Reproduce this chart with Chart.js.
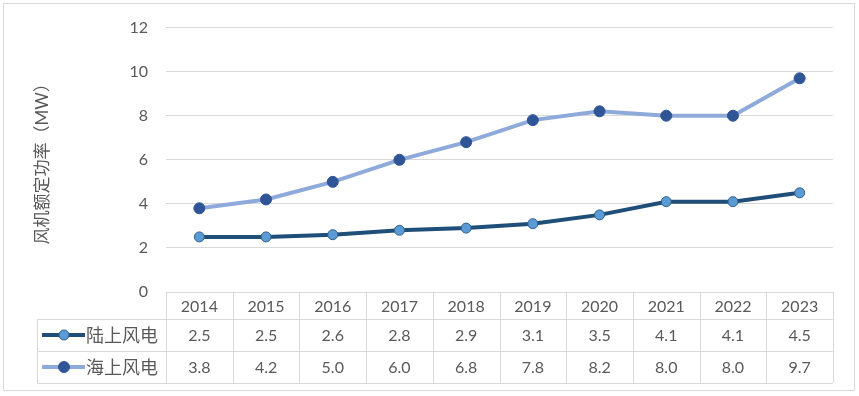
<!DOCTYPE html>
<html>
<head>
<meta charset="utf-8">
<script src="https://cdn.jsdelivr.net/npm/chart.js@4/dist/chart.umd.min.js"></script>
<style>
  html, body { margin: 0; padding: 0; background: #fff; }
  #wrap { width: 859px; height: 396px; position: relative; }
</style>
</head>
<body>
<div id="wrap"><canvas id="grafico" width="859" height="396"></canvas></div>
<script>
const years = ["2014", "2015", "2016", "2017", "2018", "2019", "2020", "2021", "2022", "2023"];
const seriesNames = ["陆上风电", "海上风电"];
const onshore = [2.5, 2.5, 2.6, 2.8, 2.9, 3.1, 3.5, 4.1, 4.1, 4.5];
const offshore = [3.8, 4.2, 5.0, 6.0, 6.8, 7.8, 8.2, 8.0, 8.0, 9.7];
const yTitle = "风机额定功率（MW）";

const FONT = "Lato, 'Noto Sans CJK SC', sans-serif";
const TEXT = "#595959";
const GRID = "#d9d9d9";

const styles = [
  { line: "#1f4e79", fill: "#5b9bd5", edge: "#2e5f8a", r: 5 },
  { line: "#8eaadb", fill: "#2f5597", edge: "#2f5597", r: 5.5 }
];

// tabla de datos bajo el eje (estilo Excel)
const dataTable = {
  id: "dataTable",
  afterDraw(chart) {
    const ctx = chart.ctx;
    const xs = chart.scales.x;
    const area = chart.chartArea;
    const half = (xs.getPixelForValue(1) - xs.getPixelForValue(0)) / 2;
    const left = xs.getPixelForValue(0) - half;
    const right = xs.getPixelForValue(years.length - 1) + half;
    const top = area.bottom;
    const rows = [top, top + 27, top + 59, top + 91];
    const labelLeft = 37;

    ctx.save();
    ctx.strokeStyle = GRID;
    ctx.lineWidth = 1;
    ctx.beginPath();
    // horizontales
    ctx.moveTo(left, rows[0] + 0.5); ctx.lineTo(right, rows[0] + 0.5);
    for (let i = 1; i < rows.length; i++) {
      ctx.moveTo(labelLeft, rows[i] + 0.5); ctx.lineTo(right, rows[i] + 0.5);
    }
    // verticales
    for (let i = 0; i <= years.length; i++) {
      const x = Math.round(left + i * half * 2) + 0.5;
      ctx.moveTo(x, rows[0]); ctx.lineTo(x, rows[3]);
    }
    ctx.moveTo(labelLeft + 0.5, rows[1]); ctx.lineTo(labelLeft + 0.5, rows[3]);
    ctx.stroke();

    ctx.fillStyle = TEXT;
    ctx.textAlign = "center";
    ctx.textBaseline = "middle";
    ctx.font = "16px " + FONT;
    years.forEach((y, i) => {
      const x = xs.getPixelForValue(i);
      ctx.fillText(y, x, (rows[0] + rows[1]) / 2 + 1);
      ctx.fillText(onshore[i].toFixed(1), x, (rows[1] + rows[2]) / 2 + 1);
      ctx.fillText(offshore[i].toFixed(1), x, (rows[2] + rows[3]) / 2 + 1);
    });

    // leyenda dentro de la tabla
    seriesNames.forEach((name, k) => {
      const cy = (rows[k + 1] + rows[k + 2]) / 2;
      const st = styles[k];
      ctx.strokeStyle = st.line;
      ctx.lineWidth = 4;
      ctx.beginPath();
      ctx.moveTo(42, cy); ctx.lineTo(85, cy);
      ctx.stroke();
      ctx.beginPath();
      ctx.arc(64, cy, st.r, 0, Math.PI * 2);
      ctx.fillStyle = st.fill;
      ctx.fill();
      ctx.lineWidth = 1;
      ctx.strokeStyle = st.edge;
      ctx.stroke();
      ctx.fillStyle = TEXT;
      ctx.textAlign = "left";
      ctx.font = "18px " + FONT;
      ctx.fillText(name, 86, cy + 1);
    });

    // borde exterior
    ctx.strokeStyle = GRID;
    ctx.lineWidth = 1;
    ctx.strokeRect(3.5, 3.5, 851, 387);
    ctx.restore();
  }
};

new Chart(document.getElementById("grafico"), {
  type: "line",
  data: {
    labels: years,
    datasets: [onshore, offshore].map((d, k) => ({
      label: seriesNames[k],
      data: d,
      borderColor: styles[k].line,
      borderWidth: 4,
      pointBackgroundColor: styles[k].fill,
      pointBorderColor: styles[k].edge,
      pointBorderWidth: 1,
      pointRadius: styles[k].r,
      tension: 0
    }))
  },
  options: {
    responsive: false,
    animation: false,
    layout: { padding: { top: 24, right: 26, bottom: 104, left: 0 } },
    plugins: {
      legend: { display: false },
      tooltip: { enabled: false }
    },
    scales: {
      x: {
        display: false,
        offset: true
      },
      y: {
        min: 0,
        max: 12,
        ticks: { stepSize: 2, padding: 18, color: TEXT, font: { family: FONT, size: 16 } },
        grid: { color: GRID, drawTicks: false },
        border: { display: false },
        title: {
          display: true,
          text: yTitle,
          color: TEXT,
          font: { family: FONT, size: 17 },
          padding: { top: 32, bottom: 0 }
        },
        afterFit(scale) { scale.width = 166; }
      }
    }
  },
  plugins: [dataTable]
});
</script>
</body>
</html>
